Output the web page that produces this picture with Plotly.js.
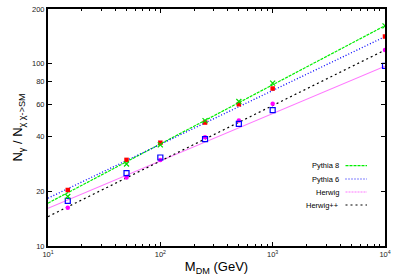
<!DOCTYPE html>
<html><head><meta charset="utf-8">
<script src="https://cdn.plot.ly/plotly-3.0.1.min.js"></script>
<style>html,body{margin:0;padding:0;background:#fff;}#chart{width:399px;height:279px;}</style>
</head><body><div id="chart"></div>
<script>
// Data
const massPoints = [15, 50, 100, 250, 500, 1000, 10000];
const pythia8Pts = [18.7, 28.2, 35.9, 48.8, 62.1, 78.3, 161.7];
const pythia6Pts = [20.3, 29.7, 36.9, 47.6, 60.0, 73.2, 141.3];
const herwigPts = [17.7, 25.1, 30.6, 38.6, 46.8, 55.7, 97.5];
const herwigppPts = [16.2, 23.8, 29.7, 39.5, 48.8, 60.3, 119.3];
// Fit lines (values read at the ends of each line)
const fitMass = [10, 10000];
const pythia8Fit = [17.2, 162];
const pythia6Fit = [18.3, 141];
const herwigFit = [16.1, 97];
const herwigppFit = [14.5, 119];
const legendNames = ['Pythia 8', 'Pythia 6', 'Herwig', 'Herwig++'];
const xTickVals = [10, 100, 1000, 10000];
const xTickText = ['10<sup>1</sup>', '10<sup>2</sup>', '10<sup>3</sup>', '10<sup>4</sup>'];
const yTickVals = [10, 20, 40, 60, 80, 100, 200];

const xMinor = [];
[10, 100, 1000].forEach(d => { for (let k = 2; k <= 9; k++) xMinor.push(k * d); });

const lineStyles = [
  {color: '#00ee00', dash: '3px,1px', width: 1.2},
  {color: '#0000ff', dash: '1px,2px', width: 1.3},
  {color: '#ff77ff', dash: 'solid', width: 1.1},
  {color: '#000000', dash: '2px,3px', width: 1.2}
];
const fits = [pythia8Fit, pythia6Fit, herwigFit, herwigppFit];

const traces = [];
fits.forEach((f, i) => {
  traces.push({x: fitMass, y: f, mode: 'lines', line: lineStyles[i], showlegend: false, hoverinfo: 'skip'});
});
traces.push({x: massPoints, y: herwigppPts, mode: 'markers', marker: {symbol: 'circle', size: 4.5, color: '#ff00ff'}, showlegend: false});
traces.push({x: massPoints, y: herwigPts, mode: 'markers', marker: {symbol: 'square-open', size: 5, color: '#0000ff', line: {width: 1.2}}, showlegend: false});
traces.push({x: massPoints, y: pythia6Pts, mode: 'markers', marker: {symbol: 'square', size: 4.5, color: '#ff0000'}, showlegend: false});
traces.push({x: massPoints, y: pythia8Pts, mode: 'markers', marker: {symbol: 'x-thin-open', size: 5, color: '#00dd00', line: {width: 1.2, color: '#00dd00'}}, showlegend: false});

// Manual legend (text on the left, sample on the right, as in the reference)
const L = 48, R = 385, T = 9, B = 246;
const px = v => (v - L) / (R - L);
const py = v => (B - v) / (B - T);
const legY = [165.7, 179, 192, 205];
const annotations = [];
const shapes = [];
legendNames.forEach((n, i) => {
  annotations.push({xref: 'paper', yref: 'paper', x: px(341), y: py(legY[i]), xanchor: 'right', yanchor: 'middle',
    text: n, showarrow: false, font: {family: 'Liberation Sans, Arial, sans-serif', size: 7.5, color: '#000'}});
  shapes.push({type: 'line', xref: 'paper', yref: 'paper', x0: px(345.5), x1: px(367), y0: py(legY[i]), y1: py(legY[i]),
    line: {color: lineStyles[i].color, dash: lineStyles[i].dash === 'solid' ? '2px,1px' : lineStyles[i].dash, width: 1.2}});
});

const layout = {
  width: 399, height: 279,
  margin: {l: 48, r: 14, t: 9, b: 33},
  paper_bgcolor: '#fff', plot_bgcolor: '#fff',
  showlegend: false,
  font: {family: 'Liberation Sans, Arial, sans-serif', size: 7, color: '#000'},
  xaxis: {
    type: 'log', range: [1, 4], tickmode: 'array', tickvals: xTickVals, ticktext: xTickText,
    ticks: 'inside', ticklen: 4, tickwidth: 1.2, tickcolor: '#000', mirror: 'ticks',
    showline: true, linecolor: '#000', linewidth: 2, showgrid: false, zeroline: false,
    tickfont: {size: 7.5, color: '#222'},
    minor: {tickmode: 'array', tickvals: xMinor, ticks: 'inside', ticklen: 2, tickwidth: 1, tickcolor: '#000', showgrid: false},
    title: {text: 'M<sub>DM</sub> (GeV)', font: {size: 13, color: '#000'}, standoff: 4}
  },
  yaxis: {
    type: 'log', range: [1, Math.log10(200)], tickmode: 'array', tickvals: yTickVals, ticktext: yTickVals.map(String),
    ticks: 'inside', ticklen: 4, tickwidth: 1.2, tickcolor: '#000', mirror: 'ticks',
    showline: true, linecolor: '#000', linewidth: 2, showgrid: false, zeroline: false,
    tickfont: {size: 7.5, color: '#222'},
    title: {text: 'N<sub>γ</sub> / N<sub>χ χ->SM</sub>', font: {size: 13, color: '#000'}, standoff: 6}
  },
  annotations: annotations,
  shapes: shapes
};

Plotly.newPlot('chart', traces, layout, {staticPlot: true, displayModeBar: false});
</script>
</body></html>
